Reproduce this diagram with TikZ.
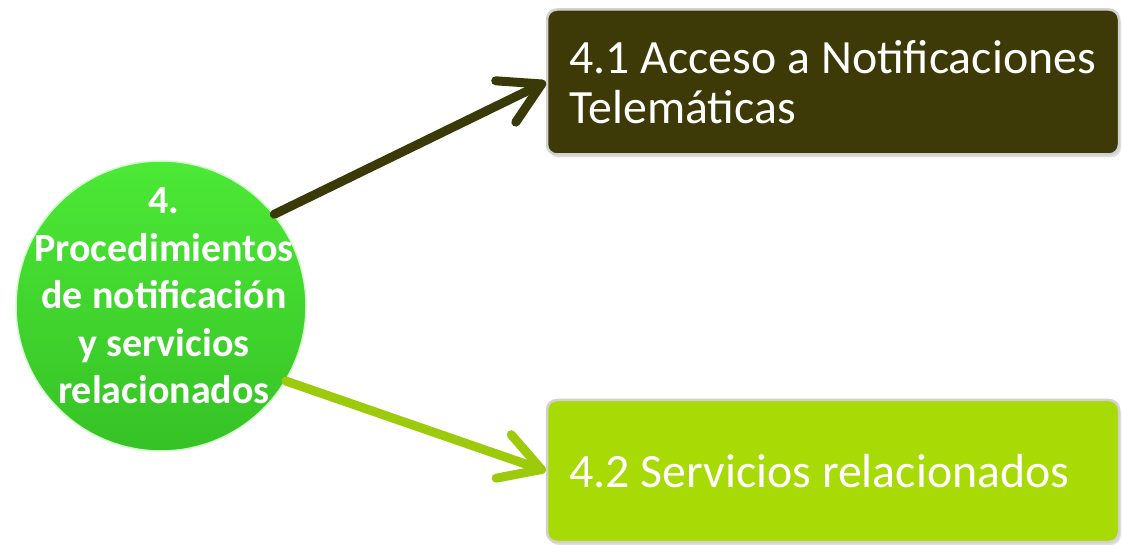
\documentclass[tikz,border=0pt]{standalone}
\usepackage{fontspec}
\setmainfont{Carlito}
\usetikzlibrary{positioning,arrows.meta,shadows}

\definecolor{leafgreen}{HTML}{4CE936}
\definecolor{leafdark}{HTML}{36C226}
\definecolor{olivebox}{HTML}{3D3A07}
\definecolor{limebox}{HTML}{A8DB05}
\definecolor{olivearrow}{HTML}{3A3908}
\definecolor{limearrow}{HTML}{9DCB0C}

\tikzset{
  topicnode/.style={circle, minimum size=290pt, inner sep=0pt, shade,
    top color=leafgreen, bottom color=leafdark, draw=white!75!leafgreen,
    line width=1.5pt},
  topictext/.style={text=white, align=center,
    font=\fontsize{40}{47.5}\selectfont\bfseries},
  subbox/.style={rectangle, rounded corners=10pt, minimum width=572pt,
    text width=527pt, align=flush left, text=white, draw=white!82!black,
    line width=2.5pt, drop shadow={opacity=0.25, shadow xshift=2pt, shadow yshift=-3pt},
    font=\fontsize{47.8}{50}\selectfont},
  linkarrow/.style={line width=9pt, line cap=round,
    -{Straight Barb[length=40pt, width=46pt, round]}}
}

\begin{document}
\begin{tikzpicture}[x=1pt,y=1pt]
  \useasboundingbox (0,0) rectangle (1122,544);
  \node[topicnode] (topic) at (161,238) {};
  \node[topictext] (topiclabel) at ([xshift=3pt, yshift=10pt]topic.center)
    {4.\\Procedimientos\\de notificación\\y servicios\\relacionados};
  \node[subbox, fill=olivebox, minimum height=145pt, right=239pt of topic, yshift=224pt] (notif)
    {4.1 Acceso a Notificaciones Telemáticas};
  \node[subbox, fill=limebox, minimum height=142pt, right=239pt of topic, yshift=-165pt] (serv)
    {4.2 Servicios relacionados};
  \draw[linkarrow, olivearrow] (topic.39) -- (notif.west);
  \draw[linkarrow, limearrow] (topic.-31) -- (serv.west);
\end{tikzpicture}
\end{document}
